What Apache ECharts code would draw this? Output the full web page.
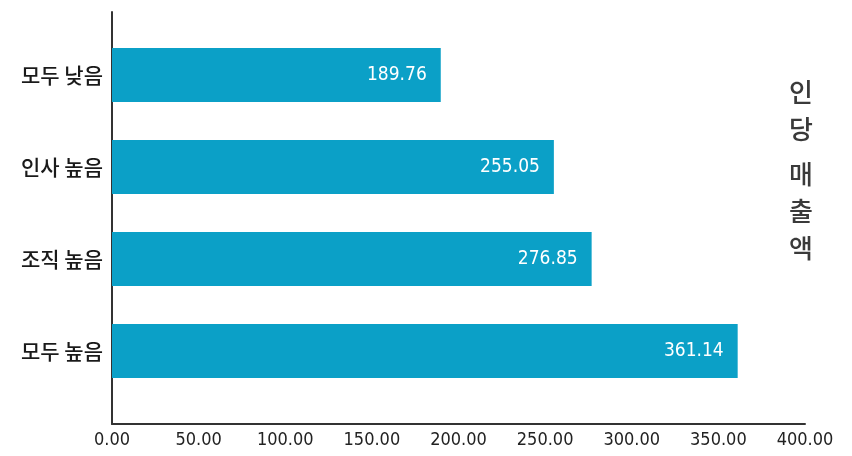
<!DOCTYPE html>
<html>
<head>
<meta charset="utf-8">
<script src="https://cdn.jsdelivr.net/npm/echarts@6/dist/echarts.min.js"></script>
<style>
  html, body { margin: 0; padding: 0; background: #fff; }
  #chart { width: 852px; height: 456px; }
</style>
</head>
<body>
<div id="chart"></div>
<script>
// 데이터
const categories = ['모두 낮음', '인사 높음', '조직 높음', '모두 높음'];
const salesPerHead = [189.76, 255.05, 276.85, 361.14];
const axisMin = 0;
const axisMax = 400;
const axisStep = 50;

const numFont = '"Liberation Sans Narrow", "DejaVu Sans Condensed", sans-serif';
const krFont = '"Noto Sans CJK KR", sans-serif';

const chart = echarts.init(document.getElementById('chart'));

const option = {
  backgroundColor: '#fff',
  animation: false,
  grid: [
    // 축 선만 그리는 틀
    { left: 112, right: 47, top: 12, bottom: 32 },
    // 막대 영역
    { left: 112, right: 47, top: 29, bottom: 59 }
  ],
  xAxis: [
    {
      gridIndex: 0,
      type: 'value',
      min: axisMin,
      max: axisMax,
      interval: axisStep,
      axisLine: { show: true, lineStyle: { color: '#333', width: 2 } },
      axisTick: { show: false },
      splitLine: { show: false },
      axisLabel: {
        color: '#222',
        fontFamily: numFont,
        fontSize: 18,
        margin: 7,
        formatter: v => v.toFixed(2)
      }
    },
    {
      gridIndex: 1,
      type: 'value',
      min: axisMin,
      max: axisMax,
      show: false
    }
  ],
  yAxis: [
    {
      gridIndex: 0,
      type: 'value',
      axisLine: { show: true, lineStyle: { color: '#333', width: 2 } },
      axisTick: { show: false },
      axisLabel: { show: false },
      splitLine: { show: false }
    },
    {
      gridIndex: 1,
      type: 'category',
      data: categories,
      inverse: true,
      axisLine: { show: false },
      axisTick: { show: false },
      axisLabel: {
        color: '#1a1a1a',
        fontFamily: krFont,
        fontSize: 21,
        fontWeight: 500,
        margin: 9
      }
    }
  ],
  series: [
    {
      type: 'bar',
      xAxisIndex: 1,
      yAxisIndex: 1,
      data: salesPerHead,
      barWidth: 54,
      itemStyle: { color: '#0ba0c7' },
      label: {
        show: true,
        position: 'insideRight',
        distance: 14,
        color: '#fff',
        fontFamily: numFont,
        fontSize: 19,
        formatter: p => p.value.toFixed(2)
      }
    }
  ],
  graphic: [
    {
      type: 'text',
      left: 789,
      top: 74,
      style: {
        text: '인\n당',
        fontFamily: krFont,
        fontSize: 26,
        lineHeight: 37,
        fill: '#3a3a3a',
        fontWeight: 500
      }
    },
    {
      type: 'text',
      left: 789,
      top: 156,
      style: {
        text: '매\n출\n액',
        fontFamily: krFont,
        fontSize: 26,
        lineHeight: 37,
        fill: '#3a3a3a',
        fontWeight: 500
      }
    }
  ]
};

chart.setOption(option);
</script>
</body>
</html>
